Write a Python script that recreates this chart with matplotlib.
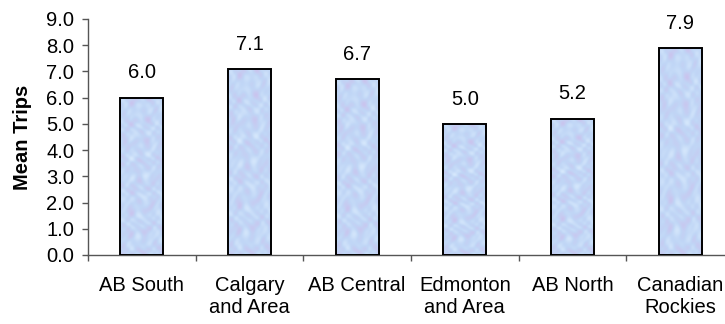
import numpy as np
import matplotlib
matplotlib.use("Agg")
import matplotlib.pyplot as plt
from matplotlib.ticker import FixedLocator, FormatStrFormatter

# Mean trips by region
regions = ["AB South", "Calgary\nand Area", "AB Central", "Edmonton\nand Area", "AB North", "Canadian\nRockies"]
mean_trips = [6.0, 7.1, 6.7, 5.0, 5.2, 7.9]

plt.rcParams['font.family'] = ['Liberation Sans', 'DejaVu Sans']
fs = 14.5

fig = plt.figure(figsize=(7.25, 3.24), dpi=100)
ax = fig.add_axes([88 / 725, (324 - 255) / 324, 646 / 725, 236 / 324])

x = np.arange(len(regions))
bars = ax.bar(x, mean_trips, width=0.4, facecolor='none', edgecolor='black', linewidth=1.4, zorder=3)

# soft blue/lavender marbled fill, built from a few waves
yy, xx = np.mgrid[0:240, 0:48]
tex = (np.sin(xx * 0.31 + yy * 0.07) * np.cos(yy * 0.11 - 0.5)
       + np.sin(yy * 0.19 - xx * 0.23 + 1.3) * np.cos(xx * 0.17 + 0.8)
       + 0.6 * np.sin(xx * 0.52 + yy * 0.29 + np.sin(yy * 0.13) * 2)
       + 0.4 * np.cos(yy * 0.41 - xx * 0.37 + np.cos(xx * 0.21) * 2))
tex = (tex - tex.min()) / (tex.max() - tex.min())
light = np.array([214, 232, 252]) / 255
blue = np.array([192, 214, 246]) / 255
lav = np.array([202, 196, 238]) / 255
t = tex[..., None]
rgb = np.where(t < 0.5, light * (1 - 2 * t) + blue * (2 * t), blue * (2 - 2 * t) + lav * (2 * t - 1))

for b in bars:
    x0, w, h = b.get_x(), b.get_width(), b.get_height()
    im = ax.imshow(rgb, extent=[x0, x0 + w, 0, h], aspect='auto', origin='lower',
                   interpolation='bilinear', zorder=2)
    im.set_clip_path(b)

for xi, v in zip(x, mean_trips):
    ax.annotate(f"{v:.1f}", (xi, v), xytext=(0, 11), textcoords='offset points',
                ha='center', va='bottom', fontsize=fs)

ax.set_xlim(-0.5, len(regions) - 0.5)
ax.set_ylim(0, 9)
ax.set_yticks(np.arange(0, 9.1, 1.0))
ax.yaxis.set_major_formatter(FormatStrFormatter('%.1f'))
ax.set_xticks(x)
ax.set_xticklabels(regions, fontsize=fs)
ax.xaxis.set_minor_locator(FixedLocator(np.arange(-0.5, len(regions), 1.0)))
ax.tick_params(axis='x', which='major', length=0, pad=15)
ax.tick_params(axis='x', which='minor', length=4, color='#555555', width=1)
ax.tick_params(axis='y', length=4, color='#555555', width=1, labelsize=fs, pad=6)
ax.set_ylabel("Mean Trips", fontsize=fs, fontweight='bold', labelpad=10)

for s in ['top', 'right']:
    ax.spines[s].set_visible(False)
for s in ['left', 'bottom']:
    ax.spines[s].set_color('#555555')
    ax.spines[s].set_linewidth(1)

fig.savefig("out.png", dpi=100)
